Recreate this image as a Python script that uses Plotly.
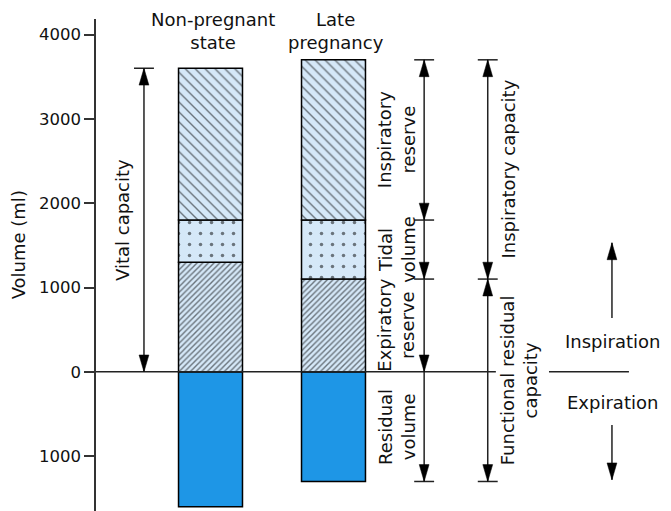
import plotly.graph_objects as go

# ---------------- data ----------------
states = ["Non-pregnant<br>state", "Late<br>pregnancy"]
positions = [1, 2]
residual_volume = [1600, 1300]
expiratory_reserve = [1300, 1100]
tidal_volume = [500, 700]
inspiratory_reserve = [1800, 1900]

tick_vals = [-1000, 0, 1000, 2000, 3000, 4000]
tick_text = ["1000", "0", "1000", "2000", "3000", "4000"]

# ---------------- style ----------------
FONT = "DejaVu Sans, Verdana, sans-serif"
FS = 18
LIGHT = "#d5e8f8"
BLUE = "#1e96e6"
INK = "#222222"
LW = 1.5
BAR_W = 0.52

X_LO, X_HI = 0.069, 4.744
Y_LO, Y_HI = -1650, 4184

fig = go.Figure()

seg_erv_base = [0, 0]
seg_tv_base = [e for e in expiratory_reserve]
seg_irv_base = [e + t for e, t in zip(expiratory_reserve, tidal_volume)]

fig.add_trace(go.Bar(x=positions, y=[-r for r in residual_volume], base=[0, 0],
                     width=BAR_W, marker=dict(color=BLUE, line=dict(color="black", width=LW)),
                     name="Residual volume"))
fig.add_trace(go.Bar(x=positions, y=expiratory_reserve, base=seg_erv_base, width=BAR_W,
                     marker=dict(color=LIGHT, line=dict(color="black", width=LW),
                                 pattern=dict(shape="/", size=4, solidity=0.35,
                                              fgcolor="black", bgcolor=LIGHT, fillmode="overlay")),
                     name="Expiratory reserve"))
fig.add_trace(go.Bar(x=positions, y=tidal_volume, base=seg_tv_base, width=BAR_W,
                     marker=dict(color=LIGHT, line=dict(color="black", width=LW),
                                 pattern=dict(shape=".", size=11, solidity=0.08,
                                              fgcolor="black", bgcolor=LIGHT, fillmode="overlay")),
                     name="Tidal volume"))
fig.add_trace(go.Bar(x=positions, y=inspiratory_reserve, base=seg_irv_base, width=BAR_W,
                     marker=dict(color=LIGHT, line=dict(color="black", width=LW),
                                 pattern=dict(shape="\\", size=7, solidity=0.2,
                                              fgcolor="black", bgcolor=LIGHT, fillmode="overlay")),
                     name="Inspiratory reserve"))

shapes = []
annotations = []

HEAD_LEN = 200   # data units (~17 px)
HEAD_HW = 0.04   # x units (~5 px)
CAP_HW = 0.081


def vline(x, y0, y1):
    shapes.append(dict(type="line", xref="x", yref="y", x0=x, x1=x, y0=y0, y1=y1,
                       line=dict(color=INK, width=LW)))


def hline(x0, x1, y):
    shapes.append(dict(type="line", xref="x", yref="y", x0=x0, x1=x1, y0=y, y1=y,
                       line=dict(color=INK, width=LW)))


def cap(x, y):
    hline(x - CAP_HW, x + CAP_HW, y)


def head(x, tip, up):
    base = tip - HEAD_LEN if up else tip + HEAD_LEN
    shapes.append(dict(type="path", xref="x", yref="y",
                       path=f"M {x - HEAD_HW},{base} L {x},{tip} L {x + HEAD_HW},{base} Z",
                       fillcolor="black", line=dict(color="black", width=0.5)))


def text(x, y, s, angle=0, size=FS, xref="x"):
    annotations.append(dict(x=x, y=y, xref=xref, yref="y", text=s, showarrow=False,
                            textangle=angle, font=dict(family=FONT, size=size, color="#111"),
                            xanchor="center", yanchor="middle"))


np_top = expiratory_reserve[0] + tidal_volume[0] + inspiratory_reserve[0]
lp_erv = expiratory_reserve[1]
lp_tv_top = expiratory_reserve[1] + tidal_volume[1]
lp_top = lp_tv_top + inspiratory_reserve[1]
lp_rv = -residual_volume[1]

# zero line and right divider
hline(X_LO, 3.32, 0)
hline(3.752, 4.402, 0)

# vital capacity
xv = 0.459
vline(xv, 0, np_top)
cap(xv, np_top)
head(xv, np_top, True)
head(xv, 0, False)
text(0.28, np_top / 2, "Vital capacity", -90)

# column 1
x1 = 2.737
vline(x1, lp_rv, lp_top)
for lv in [lp_top, lp_tv_top, lp_erv, lp_rv]:
    cap(x1, lv)
head(x1, lp_top, True)
head(x1, lp_tv_top, False)
head(x1, lp_erv, False)
head(x1, 0, False)
head(x1, lp_rv, False)
xt1 = 2.51
text(xt1, (lp_top + lp_tv_top) / 2, "Inspiratory<br>reserve", -90)
text(xt1, (lp_tv_top + lp_erv) / 2, "Tidal<br>volume", -90)
text(xt1, lp_erv / 2, "Expiratory<br>reserve", -90)
text(xt1, lp_rv / 2, "Residual<br>volume", -90)

# column 2
x2 = 3.254
vline(x2, lp_rv, lp_top)
for lv in [lp_top, lp_erv, lp_rv]:
    cap(x2, lv)
head(x2, lp_top, True)
head(x2, lp_erv, False)
head(x2, lp_erv, True)
head(x2, lp_rv, False)
text(3.419, (lp_top + lp_erv) / 2, "Inspiratory capacity", -90)
text(3.508, (lp_erv + lp_rv) / 2, "Functional residual<br>capacity", -90)

# inspiration / expiration
xr = 4.264
vline(xr, 640, 1530)
head(xr, 1530, True)
vline(xr, -630, -1280)
head(xr, -1280, False)
text(4.272, 360, "Inspiration")
text(4.272, -360, "Expiration")

# state labels on top
for p, s in zip(positions, states):
    text(p + 0.02, 4045, s)

# y axis title
text((18 - 96) / 575, 1500, "Volume (ml)", -90, xref="paper")

fig.update_layout(
    width=671, height=511,
    margin=dict(l=96, r=0, t=19, b=0),
    paper_bgcolor="white", plot_bgcolor="white",
    showlegend=False, barmode="overlay",
    font=dict(family=FONT, size=FS, color="#111"),
    xaxis=dict(range=[X_LO, X_HI], visible=False, fixedrange=True),
    yaxis=dict(range=[Y_LO, Y_HI], tickvals=tick_vals, ticktext=tick_text,
               showgrid=False, zeroline=False, showline=True, linecolor="#333",
               linewidth=LW, ticks="outside", ticklen=10, tickwidth=LW, tickcolor="#333",
               tickfont=dict(family=FONT, size=16.5, color="#111"), fixedrange=True,
               automargin=False),
    shapes=shapes, annotations=annotations,
)

fig.write_html("out.html", config={"displayModeBar": False},
               post_script="document.body.style.margin='0';document.body.style.overflow='hidden';")
